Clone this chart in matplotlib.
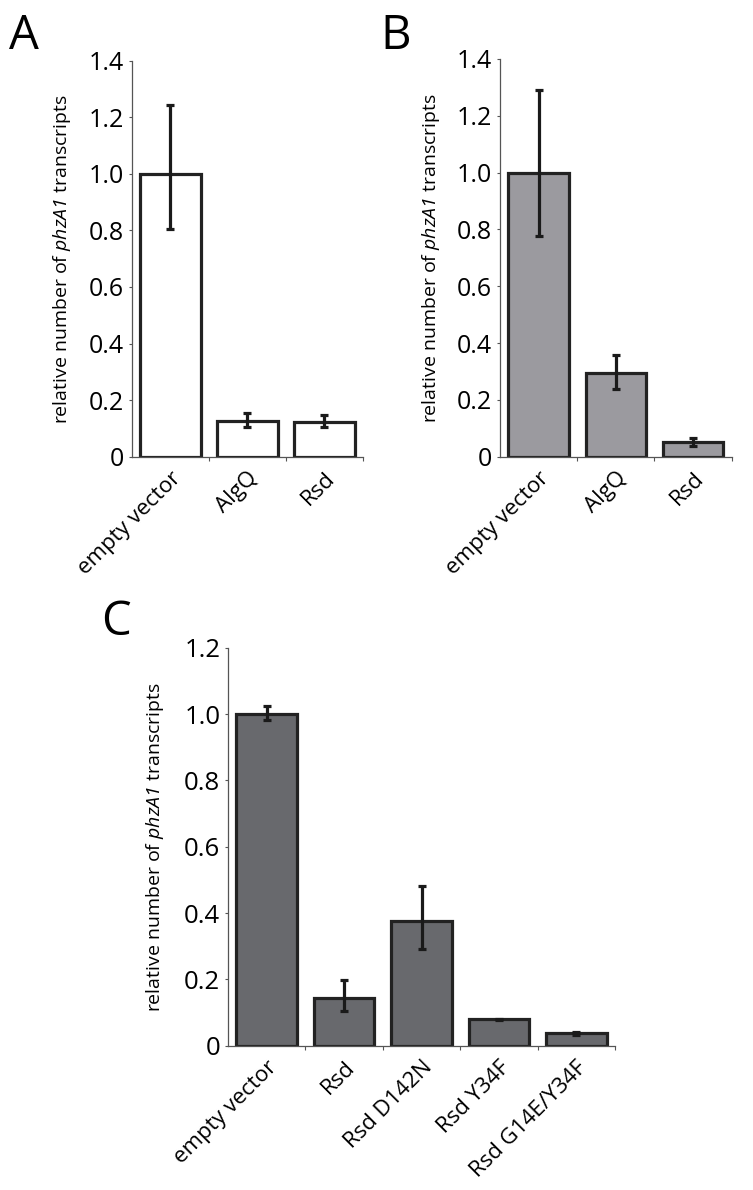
import matplotlib
matplotlib.use("Agg")
import matplotlib.pyplot as plt
import matplotlib.transforms as mtransforms
import numpy as np

plt.rcParams['font.family'] = ['Open Sans', 'DejaVu Sans']
plt.rcParams['mathtext.fontset'] = 'custom'
plt.rcParams['mathtext.rm'] = 'Open Sans:italic'
plt.rcParams['mathtext.it'] = 'Open Sans:italic'

# Panel A
cats_a = ["empty vector", "AlgQ", "Rsd"]
vals_a = [1.0, 0.127, 0.123]
err_lo_a = [0.195, 0.022, 0.018]
err_hi_a = [0.245, 0.028, 0.026]

# Panel B
cats_b = ["empty vector", "AlgQ", "Rsd"]
vals_b = [1.0, 0.295, 0.053]
err_lo_b = [0.224, 0.055, 0.014]
err_hi_b = [0.29, 0.062, 0.014]

# Panel C
cats_c = ["empty vector", "Rsd", "Rsd D142N", "Rsd Y34F", "Rsd G14E/Y34F"]
vals_c = [1.0, 0.145, 0.375, 0.079, 0.037]
err_lo_c = [0.018, 0.04, 0.083, 0.002, 0.004]
err_hi_c = [0.025, 0.054, 0.108, 0.002, 0.004]

ticks_ab = [0, 0.2, 0.4, 0.6, 0.8, 1.0, 1.2, 1.4]
ticklabels_ab = ['0', '0.2', '0.4', '0.6', '0.8', '1.0', '1.2', '1.4']
ticks_c = [0, 0.2, 0.4, 0.6, 0.8, 1.0, 1.2]
ticklabels_c = ['0', '0.2', '0.4', '0.6', '0.8', '1.0', '1.2']

ylabel = "relative number of $\\mathrm{phzA1}$ transcripts"

W, H = 753, 1190
fig = plt.figure(figsize=(W/100, H/100), dpi=100)


def make_panel(left, right, top, bottom, cats, vals, elo, ehi, color, ymax,
               yticks, yticklabels, lab_x, xfs, yfs):
    ax = fig.add_axes([left/W, 1-bottom/H, (right-left)/W, (bottom-top)/H])
    x = np.arange(len(cats))
    ax.bar(x, vals, width=0.785, color=color, edgecolor='#222222',
           linewidth=2.3, zorder=2)
    ax.errorbar(x, vals, yerr=[elo, ehi], fmt='none', ecolor='#1a1a1a',
                elinewidth=2.3, capsize=3.0, capthick=2.3, zorder=3)
    ax.set_xlim(-0.5, len(cats) - 0.5)
    ax.set_ylim(0, ymax)
    ax.set_yticks(yticks)
    ax.set_yticklabels(yticklabels, fontsize=yfs)
    ax.set_xticks(np.arange(len(cats)) + 0.5)
    ax.set_xticklabels([])
    ax.set_xticks(x, minor=True)
    ax.set_xticklabels(cats, minor=True, rotation=45, ha='right',
                       va='top', rotation_mode='anchor', fontsize=xfs)
    off = mtransforms.ScaledTranslation(9/100, 0, fig.dpi_scale_trans)
    for lab in ax.get_xticklabels(minor=True):
        lab.set_transform(lab.get_transform() + off)
    ax.tick_params(axis='x', which='major', length=3, width=0.8,
                   color='#555555', direction='out')
    ax.tick_params(axis='x', which='minor', length=0, pad=8)
    ax.tick_params(axis='y', length=2.5, width=0.8, color='#555555',
                   direction='out', pad=3)
    for s in ['top', 'right']:
        ax.spines[s].set_visible(False)
    for s in ['left', 'bottom']:
        ax.spines[s].set_color('#555555')
        ax.spines[s].set_linewidth(0.9)
    ax.set_ylabel(ylabel, fontsize=14)
    ax.yaxis.set_label_coords(lab_x, 0.5)
    return ax


axA = make_panel(131.7, 363, 60.7, 456.7, cats_a, vals_a, err_lo_a, err_hi_a,
                 'white', 1.4, ticks_ab, ticklabels_ab, -0.254, 16, 18)
axB = make_panel(500, 731.7, 59, 456.7, cats_b, vals_b, err_lo_b, err_hi_b,
                 '#9b9a9f', 1.4, ticks_ab, ticklabels_ab, -0.25, 16, 18)
axC = make_panel(228, 615, 647.7, 1045.7, cats_c, vals_c, err_lo_c, err_hi_c,
                 '#68696d', 1.2, ticks_c, ticklabels_c, -0.16, 16, 18.5)

fig.text(9/W, 1-36/H, "A", fontsize=34, va='center', ha='left')
fig.text(380/W, 1-36/H, "B", fontsize=34, va='center', ha='left')
fig.text(101/W, 1-622/H, "C", fontsize=34, va='center', ha='left')

fig.savefig("out.png", dpi=100, facecolor='white')
